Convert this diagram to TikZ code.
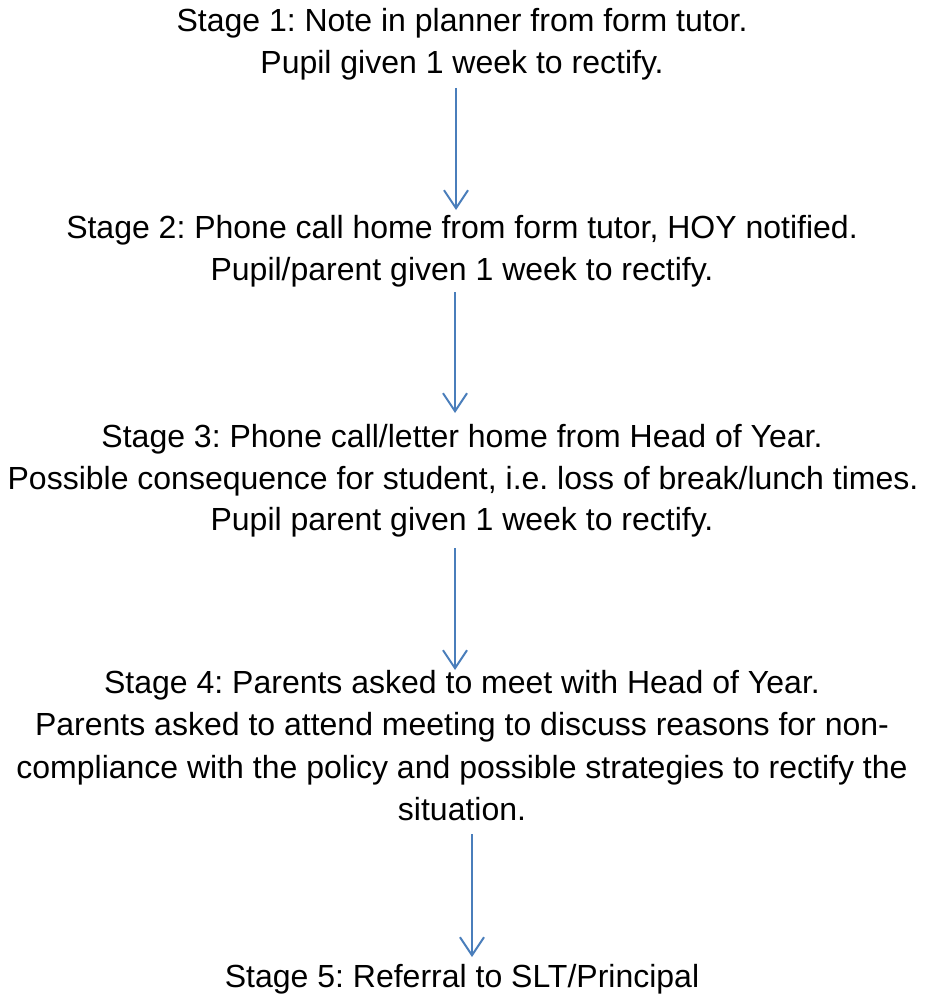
\documentclass[tikz,border=0pt]{standalone}
\usepackage{fontspec}
\setmainfont{Liberation Sans}
\usetikzlibrary{arrows.meta}
\definecolor{arrowblue}{RGB}{74,126,187}
\frenchspacing
\begin{document}
\begin{tikzpicture}[x=1pt,y=1pt,
  txt/.style={anchor=base,inner sep=0pt,font=\fontsize{32}{42}\selectfont\frenchspacing},
  flow/.style={draw=arrowblue,line width=2pt,-{Straight Barb[length=18pt,width=24pt,line width=2pt]}}]
\useasboundingbox (0,0) rectangle (924,-995);
% Stage 1
\node[txt] (s1a) at (462,-32) {Stage 1: Note in planner from form tutor.};
\node[txt] (s1b) at (462,-74) {Pupil given 1 week to rectify.};
% Stage 2
\node[txt] (s2a) at (462,-238) {Stage 2: Phone call home from form tutor, HOY notified.};
\node[txt] (s2b) at (462,-280) {Pupil/parent given 1 week to rectify.};
% Stage 3
\node[txt] (s3a) at (462,-447) {Stage 3: Phone call/letter home from Head of Year.};
\node[txt] (s3b) at (463,-489) {Possible consequence for student, i.e. loss of break/lunch times.};
\node[txt] (s3c) at (462,-530) {Pupil parent given 1 week to rectify.};
% Stage 4
\node[txt] (s4a) at (462,-693) {Stage 4: Parents asked to meet with Head of Year.};
\node[txt] (s4b) at (462,-735) {Parents asked to attend meeting to discuss reasons for non-};
\node[txt] (s4c) at (462,-778) {compliance with the policy and possible strategies to rectify the};
\node[txt] (s4d) at (462,-820) {situation.};
% Stage 5
\node[txt] (s5a) at (462,-987) {Stage 5: Referral to SLT/Principal};
% arrow end points
\coordinate (a1s) at (456,-88);  \coordinate (a1e) at (456,-210);
\coordinate (a2s) at (455,-292); \coordinate (a2e) at (455,-413);
\coordinate (a3s) at (455,-548); \coordinate (a3e) at (455,-670);
\coordinate (a4s) at (472,-834); \coordinate (a4e) at (472,-957);
\draw[flow] (a1s) -- (a1e);
\draw[flow] (a2s) -- (a2e);
\draw[flow] (a3s) -- (a3e);
\draw[flow] (a4s) -- (a4e);
\end{tikzpicture}
\end{document}
